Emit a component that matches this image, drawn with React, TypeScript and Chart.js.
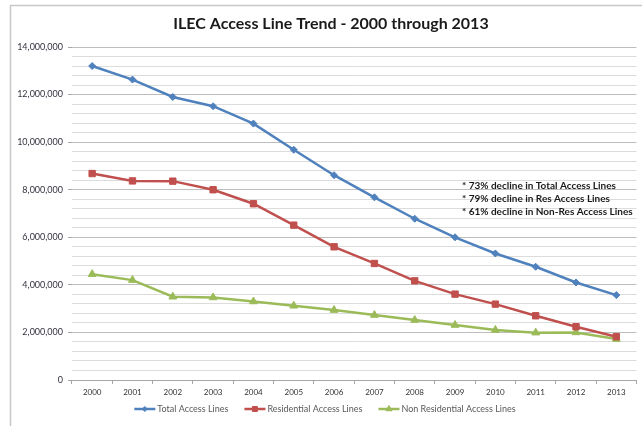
import React, { useEffect, useRef } from 'react';
import { Chart, registerables } from 'chart.js';
import { drawPoint } from 'chart.js/helpers';

Chart.register(...registerables);

const years = ['2000', '2001', '2002', '2003', '2004', '2005', '2006', '2007', '2008', '2009', '2010', '2011', '2012', '2013'];
const totalLines = [13200000, 12630000, 11900000, 11510000, 10780000, 9680000, 8610000, 7680000, 6780000, 6000000, 5320000, 4760000, 4100000, 3570000];
const residentialLines = [8680000, 8370000, 8360000, 8000000, 7410000, 6510000, 5600000, 4900000, 4170000, 3610000, 3190000, 2700000, 2240000, 1820000];
const nonResidentialLines = [4450000, 4200000, 3500000, 3470000, 3300000, 3120000, 2940000, 2730000, 2520000, 2310000, 2100000, 1990000, 2000000, 1720000];
const seriesNames = ['Total Access Lines', 'Residential Access Lines', 'Non Residential Access Lines'];
const seriesColors = ['#4f81bd', '#c0504d', '#9bbb59'];
const seriesMarkers = ['rectRot', 'rect', 'triangle'];
const markerRadii = [3.5, 4.5, 4.5];
const notes = ['* 73% decline in Total Access Lines', '* 79% decline in Res Access Lines', '* 61% decline in Non-Res Access Lines'];
const titleText = 'ILEC Access Line Trend - 2000 through 2013';
const yMax = 14000000;
const yMinorStep = 400000;
const yMajorStep = 2000000;

const FONT = 'Lato, "Open Sans", sans-serif';

const decorPlugin = {
  id: 'decor',
  beforeDraw(chart: any) {
    const { ctx, width, height } = chart;
    ctx.save();
    ctx.fillStyle = '#ffffff';
    ctx.fillRect(0, 0, width, height);
    ctx.strokeStyle = '#c8c8c8';
    ctx.lineWidth = 1.5;
    ctx.strokeRect(10.5, 5.5, width + 20, height + 20);
    ctx.restore();
  },
  afterDraw(chart: any) {
    const { ctx } = chart;
    ctx.save();
    // Title
    ctx.fillStyle = '#1a1a1a';
    ctx.font = `bold 16px ${FONT}`;
    ctx.textAlign = 'center';
    ctx.textBaseline = 'middle';
    ctx.fillText(titleText, 331, 24);

    // Notes
    ctx.font = `bold 10px ${FONT}`;
    ctx.textAlign = 'left';
    ctx.fillStyle = '#1a1a1a';
    notes.forEach((n, i) => ctx.fillText(n, 462, 186 + i * 13));

    // Legend
    ctx.font = `9px ${FONT}`;
    const lineLen = 21;
    const gap = 2;
    const itemGap = 16;
    const widths = seriesNames.map((s) => ctx.measureText(s).width);
    const total = widths.reduce((a, b) => a + b, 0) + seriesNames.length * (lineLen + gap) + itemGap * (seriesNames.length - 1);
    let x = 325 - total / 2;
    const y = 409;
    seriesNames.forEach((name, i) => {
      ctx.strokeStyle = seriesColors[i];
      ctx.lineWidth = 2.5;
      ctx.beginPath();
      ctx.moveTo(x, y);
      ctx.lineTo(x + lineLen, y);
      ctx.stroke();
      ctx.fillStyle = seriesColors[i];
      ctx.strokeStyle = seriesColors[i];
      ctx.lineWidth = 1;
      drawPoint(ctx, { pointStyle: seriesMarkers[i] as any, radius: markerRadii[i] - 1, borderWidth: 1, rotation: 0 }, x + lineLen / 2, y);
      ctx.fillStyle = '#595959';
      ctx.textAlign = 'left';
      ctx.fillText(name, x + lineLen + gap, y + 0.5);
      x += lineLen + gap + widths[i] + itemGap;
    });
    ctx.restore();
  },
};

export default function App() {
  const ref = useRef<HTMLCanvasElement | null>(null);
  useEffect(() => {
    document.body.style.margin = '0';
    const canvas = ref.current!;
    const datasets = [totalLines, residentialLines, nonResidentialLines].map((data, i) => ({
      label: seriesNames[i],
      data,
      borderColor: seriesColors[i],
      backgroundColor: seriesColors[i],
      borderWidth: 2.5,
      pointStyle: seriesMarkers[i],
      pointRadius: markerRadii[i],
      pointBorderWidth: 1,
      tension: 0,
    }));
    const chart = new Chart(canvas, {
      type: 'line',
      data: { labels: years, datasets },
      plugins: [decorPlugin],
      options: {
        animation: false,
        responsive: false,
        devicePixelRatio: 1,
        layout: { padding: { left: 0, right: 0, top: 47, bottom: 26 } },
        plugins: {
          legend: { display: false },
          title: { display: false },
          tooltip: { enabled: false },
        },
        scales: {
          x: {
            offset: true,
            grid: {
              offset: true,
              drawOnChartArea: false,
              drawTicks: true,
              tickLength: 4,
              color: '#a6a6a6',
            },
            border: { display: true, color: '#a6a6a6', width: 1 },
            ticks: {
              font: { family: FONT, size: 8 },
              color: '#333333',
              padding: 4,
              maxRotation: 0,
              autoSkip: false,
            },
            afterFit(scale: any) {
              scale.height = 20;
            },
          },
          y: {
            min: 0,
            max: yMax,
            grid: {
              color: (c: any) => (c.tick && c.tick.value % yMajorStep === 0 ? '#bdbdbd' : '#dcdcdc'),
              tickColor: (c: any) => (c.tick && c.tick.value % yMajorStep === 0 ? '#a6a6a6' : 'rgba(0,0,0,0)'),
              tickLength: 4,
              lineWidth: 1,
            },
            border: { display: false },
            ticks: {
              stepSize: yMinorStep,
              maxTicksLimit: 100,
              autoSkip: false,
              padding: 5,
              font: { family: FONT, size: 9 },
              color: '#333340',
              callback: (v: any) => (Number(v) % yMajorStep === 0 ? Number(v).toLocaleString('en-US') : ''),
            },
            afterFit(scale: any) {
              scale.width = 72;
            },
          },
        },
      } as any,
    });
    return () => chart.destroy();
  }, []);
  return (
    <div style={{ position: 'absolute', left: 0, top: 0, width: 642, height: 426 }}>
      <canvas ref={ref} width={642} height={426} style={{ display: 'block', width: 642, height: 426 }} />
    </div>
  );
}
